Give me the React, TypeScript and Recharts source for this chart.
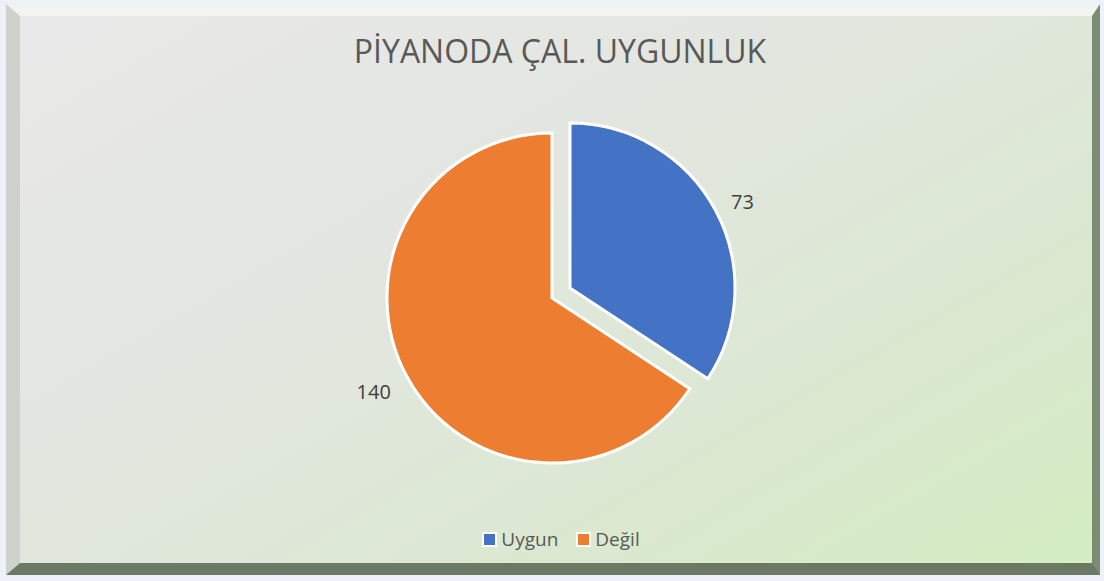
import { Cell, Legend, Pie, PieChart } from "recharts";

const categories = ["Uygun", "Değil"];
const counts = [73, 140];
const sliceColors = ["#4472C4", "#ED7D31"];
const chartTitle = "PİYANODA ÇAL. UYGUNLUK";

const rows = categories.map((name, i) => ({ name, value: counts[i] }));

const FONT = "'Open Sans', 'Noto Sans', sans-serif";
const RAD = Math.PI / 180;

function makeLabel(visibleIndex: number) {
  return (props: any) => {
    if (props.index !== visibleIndex) return null;
    const cx = Number(props.cx);
    const cy = Number(props.cy);
    const r = Number(props.outerRadius) + 18;
    const cos = Math.cos(-props.midAngle * RAD);
    const sin = Math.sin(-props.midAngle * RAD);
    const x = cx + r * cos;
    const y = cy + r * sin + (sin > 0 ? 7 : 0);
    return (
      <text
        x={x}
        y={y}
        fill="#404040"
        fontFamily={FONT}
        fontSize={20}
        textAnchor={cos >= 0 ? "start" : "end"}
        dominantBaseline="central"
      >
        {props.value}
      </text>
    );
  };
}

function LegendBox() {
  return (
    <div
      style={{
        display: "flex",
        justifyContent: "center",
        alignItems: "center",
        gap: 18,
        fontFamily: FONT,
        fontSize: 19,
        color: "#595959",
        paddingLeft: 18,
      }}
    >
      {rows.map((r, i) => (
        <div key={r.name} style={{ display: "flex", alignItems: "center", gap: 4 }}>
          <span
            style={{
              width: 11,
              height: 11,
              background: sliceColors[i],
              border: "2px solid #fff",
              display: "inline-block",
            }}
          />
          <span>{r.name}</span>
        </div>
      ))}
    </div>
  );
}

export default function App() {
  return (
    <div style={{ position: "fixed", left: 0, top: 0, width: 1104, height: 581, background: "#eef1f7" }}>
      <div
        style={{
          position: "absolute",
          left: 6,
          top: 4,
          width: 1094,
          height: 571,
          boxSizing: "border-box",
          borderStyle: "solid",
          borderWidth: "12px 8px 12px 14px",
          borderColor: "#f3f4f1 #7c8c74 #6c7a65 #cfd2cc",
          background: "linear-gradient(150deg, #e9e9e9 0%, #e3e6e0 38%, #dce8d3 68%, #d4edc2 100%)",
        }}
      />
      <div style={{ position: "absolute", left: 0, top: 0 }}>
        <PieChart width={1104} height={581} margin={{ top: 0, right: 0, bottom: 0, left: 0 }}>
          <text
            x={560}
            y={50}
            textAnchor="middle"
            dominantBaseline="central"
            fill="#595959"
            fontFamily={FONT}
            fontSize={32}
          >
            {chartTitle}
          </text>
          <Pie
            data={rows}
            dataKey="value"
            nameKey="name"
            cx={552}
            cy={298}
            outerRadius={165}
            startAngle={90}
            endAngle={-270}
            stroke="#ffffff"
            strokeWidth={3}
            label={makeLabel(1)}
            labelLine={false}
            isAnimationActive={false}
            legendType="none"
          >
            {rows.map((r, i) => (
              <Cell key={r.name} fill={i === 1 ? sliceColors[i] : "none"} stroke={i === 1 ? "#ffffff" : "none"} />
            ))}
          </Pie>
          <Pie
            data={rows}
            dataKey="value"
            nameKey="name"
            cx={570}
            cy={288}
            outerRadius={165}
            startAngle={90}
            endAngle={-270}
            stroke="#ffffff"
            strokeWidth={3}
            label={makeLabel(0)}
            labelLine={false}
            isAnimationActive={false}
            legendType="none"
          >
            {rows.map((r, i) => (
              <Cell key={r.name} fill={i === 0 ? sliceColors[i] : "none"} stroke={i === 0 ? "#ffffff" : "none"} />
            ))}
          </Pie>
          <Legend
            content={() => <LegendBox />}
            wrapperStyle={{ position: "absolute", left: 0, top: 526, width: 1104, bottom: "auto" }}
          />
        </PieChart>
      </div>
    </div>
  );
}
